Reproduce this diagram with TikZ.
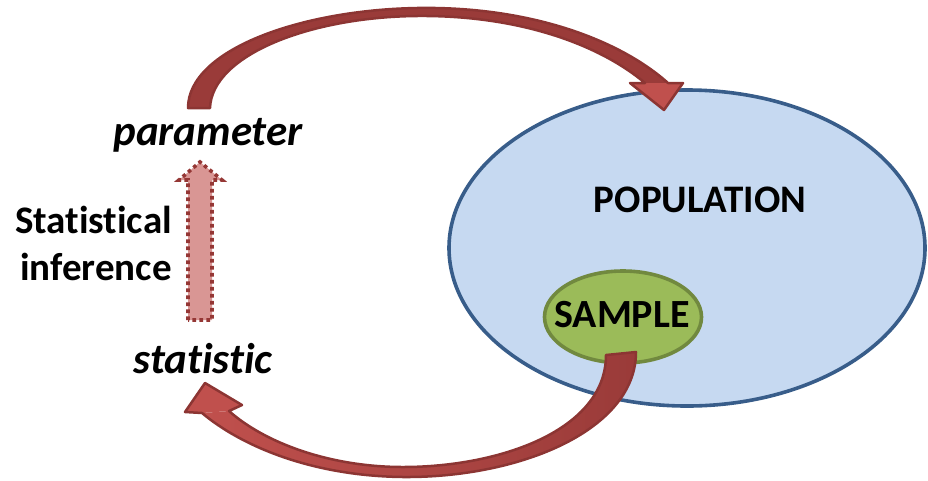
\documentclass[tikz,border=0pt]{standalone}
\usepackage{fontspec}
\setmainfont{Carlito}[Ligatures=NoCommon]
\usetikzlibrary{shapes.geometric}
\definecolor{popfill}{HTML}{C6D9F1}
\definecolor{popline}{HTML}{385D8A}
\definecolor{samfill}{HTML}{9BBB59}
\definecolor{samline}{HTML}{71893F}
\definecolor{arrlight}{HTML}{C0504D}
\definecolor{arrdark}{HTML}{9A3B39}
\definecolor{arrline}{HTML}{8C3533}
\definecolor{infill}{HTML}{D99694}
\definecolor{inline}{HTML}{953735}
\tikzset{
  bigtext/.style={font=\bfseries\fontsize{39}{47}\selectfont, inner sep=0pt, anchor=base},
  ittext/.style={font=\bfseries\itshape\fontsize{43}{50}\selectfont, inner sep=0pt, anchor=base},
  arrowedge/.style={draw=arrline, line width=2.5pt, line join=round},
}
\begin{document}
\begin{tikzpicture}[x=1pt,y=-1pt]
\useasboundingbox (0,0) rectangle (928,480);
% population
\node[ellipse, draw=popline, fill=popfill, line width=3.6pt, minimum width=476pt, minimum height=316pt, inner sep=0pt] (pop) at (687,248) {};
\node[bigtext] (poptext) at (700,212) {POPULATION};
% sample
\node[ellipse, draw=samline, fill=samfill, line width=3.6pt, minimum width=157pt, minimum height=92pt, inner sep=0pt] (sam) at (623,317) {};
\node[bigtext, font=\bfseries\fontsize{40}{48}\selectfont] (samtext) at (622,327) {SAMPLE};
% texts
\node[ittext] (param) at (208,145) {parameter};
\node[ittext] (stat) at (203,373) {statistic};
\node[font=\bfseries\fontsize{39}{47}\selectfont, inner sep=0pt, anchor=north east, align=right] (infer) at (172,206) {Statistical\\inference};
% inference dotted arrow
\path[fill=infill] (188,320) -- (188,180) -- (179,180) -- (200,162) -- (222,180) -- (212,180) -- (212,320) -- cycle;
\draw[draw=inline, line width=3.6pt, dash pattern=on 3.6pt off 3.4pt] (188,320) -- (188,180) -- (179,180) -- (200,162) -- (222,180) -- (212,180) -- (212,320) -- cycle;
% top curved arrow
\fill[arrdark] (188,108) .. controls (188,50) and (300,10) .. (417,8) .. controls (530,6) and (620,40) .. (668,83)
  -- (645,83) .. controls (600,45) and (520,15) .. (417,16) .. controls (310,17) and (212,55) .. (210,108) -- cycle;
\fill[arrlight] (668,83) -- (683,83) -- (664,110) -- (630,83) -- (645,83) -- cycle;
\draw[arrowedge] (188,108) .. controls (188,50) and (300,10) .. (417,8) .. controls (530,6) and (620,40) .. (668,83)
  -- (683,83) -- (664,110) -- (630,83) -- (645,83) .. controls (600,45) and (520,15) .. (417,16) .. controls (310,17) and (212,55) .. (210,108) -- cycle;
% bottom curved arrow
\path[left color=arrlight, right color=arrdark] (636,352) .. controls (636,430) and (520,478) .. (403,477) .. controls (310,476) and (240,445) .. (202,413)
  -- (229,411) .. controls (265,443) and (330,467) .. (403,467) .. controls (500,467) and (606,430) .. (606,355) -- cycle;
\fill[arrlight] (202,413) -- (185,412) -- (205,383) -- (242,405) -- (229,411) -- cycle;
\draw[arrowedge] (636,352) .. controls (636,430) and (520,478) .. (403,477) .. controls (310,476) and (240,445) .. (202,413)
  -- (185,412) -- (205,383) -- (242,405) -- (229,411) .. controls (265,443) and (330,467) .. (403,467) .. controls (500,467) and (606,430) .. (606,355) -- cycle;
\end{tikzpicture}
\end{document}
